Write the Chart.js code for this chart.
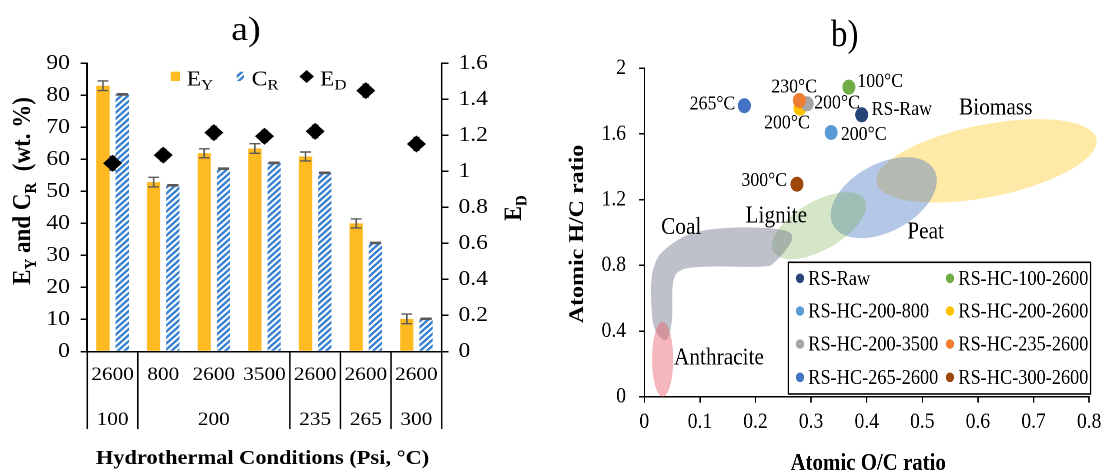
<!DOCTYPE html>
<html><head><meta charset="utf-8">
<script src="https://cdn.jsdelivr.net/npm/chart.js@4.4.1/dist/chart.umd.min.js"></script>
<style>
html,body{margin:0;padding:0;background:#fff;width:1107px;height:473px;overflow:hidden}
.panel{position:absolute;top:0;transform-origin:0 0}
</style></head><body>
<div class="panel" id="pa" style="left:0;width:496px;height:473px;transform:scaleX(1.12)"><canvas id="ca" width="496" height="473"></canvas></div>
<div class="panel" id="pb" style="left:555px;width:634px;height:473px;transform:scaleX(0.87)"><canvas id="cb" width="634" height="473"></canvas></div>
<script>
// ---------- Panel a data ----------
const psiLabels = ['2600','800','2600','3500','2600','2600','2600'];
const tempLabels = ['100','200','235','265','300'];
const tempFirstIdx = [0,1,4,5,6];
const tempLastIdx  = [0,3,4,5,6];
const eyValues = [83.0, 52.9, 61.9, 63.4, 60.9, 40.0, 10.2];
const eyErrors = [1.5, 1.5, 1.4, 1.5, 1.4, 1.4, 1.5];
const crValues = [80.3, 51.9, 57.1, 58.9, 55.8, 33.9, 10.2];
const crErrors = [0.2, 0.2, 0.2, 0.2, 0.2, 0.2, 0.2];
const edValues = [1.045, 1.09, 1.215, 1.195, 1.222, 1.448, 1.152];
const edErrors = [0.038, 0.033, 0.035, 0.033, 0.035, 0.036, 0.036];
const leftTickValues = [0,10,20,30,40,50,60,70,80,90];
const leftTickLabels = ['0','10','20','30','40','50','60','70','80','90'];
const rightTickValues = [0,0.2,0.4,0.6,0.8,1.0,1.2,1.4,1.6];
const rightTickLabels = ['0','0.2','0.4','0.6','0.8','1','1.2','1.4','1.6'];
const seriesMain = ['E','C','E'];
const seriesSub = ['Y','R','D'];

// ---------- Panel b data ----------
const samples = ['RS-Raw','RS-HC-100-2600','RS-HC-200-800','RS-HC-200-2600','RS-HC-200-3500','RS-HC-235-2600','RS-HC-265-2600','RS-HC-300-2600'];
const ocRatio = [0.391, 0.368, 0.336, 0.280, 0.293, 0.279, 0.180, 0.2746];
const hcRatio = [1.717, 1.885, 1.609, 1.757, 1.784, 1.804, 1.772, 1.294];
const pointTags = ['RS-Raw','100°C','200°C','200°C','200°C','230°C','265°C','300°C'];
const ocTickValues = [0,0.1,0.2,0.3,0.4,0.5,0.6,0.7,0.8];
const ocTickLabels = ['0','0.1','0.2','0.3','0.4','0.5','0.6','0.7','0.8'];
const hcTickValues = [0,0.4,0.8,1.2,1.6,2];
const hcTickLabels = ['0','0.4','0.8','1.2','1.6','2'];
const regionNames = ['Biomass','Peat','Lignite','Coal','Anthracite'];
const regionLabelOC = [0.632, 0.506, 0.2374, 0.0665, 0.1343];
const regionLabelHC = [1.759, 1.002, 1.101, 1.030, 0.234];
// ellipse regions: centre, semi-axis vectors (data units)
const biomassShape = {c:[0.6154,1.4363], u:[0.1978,0.1328], v:[-0.0125,0.2165]};
const peatShape = {c:[0.4306,1.212], u:[0.0910,0.1676], v:[-0.0288,0.181]};
const ligniteShape = {c:[0.3143,1.0414], u:[0.0819,0.159], v:[-0.0215,0.128]};
const anthraciteShape = {c:[0.033,0.228], u:[0,0.228], v:[0.019,0]};
const coalOutline = [[0.0392,0.3455],[0.0174,0.4266],[0.0123,0.650],[0.0174,0.792],[0.0361,0.894],[0.0859,0.9957],[0.1606,1.0299],[0.2478,1.0158],[0.2653,0.955],[0.2354,0.8227],[0.2106,0.7922],[0.117,0.7922],[0.0673,0.772],[0.0517,0.691],[0.0497,0.4674]];

// ---------- styles ----------
const FONT = "'Liberation Serif','Times New Roman',serif";
Chart.defaults.font.family = FONT;
Chart.defaults.color = '#000';
Chart.defaults.animation = false;
const sampleColors = ['#264478','#70AD47','#5B9BD5','#FFC000','#A5A5A5','#ED7D31','#4472C4','#9E480E'];
const regionColors = ['rgba(255,192,0,0.35)','rgba(68,114,196,0.40)','rgba(112,173,71,0.30)','rgba(110,118,135,0.45)','rgba(232,96,107,0.45)'];
const tagPlace = [
  {dx:11.3,dy:-5,align:'left'},{dx:9.7,dy:-5.6,align:'left'},{dx:11.2,dy:2.3,align:'left'},
  {dx:-15,dy:15,align:'center'},{dx:8,dy:-0.7,align:'left'},{dx:-6,dy:-13.4,align:'center'},
  {dx:-10.3,dy:-1.7,align:'right'},{dx:-11.3,dy:-3.6,align:'right'}];

function makeStripe(){
  const c = document.createElement('canvas'); c.width = 12; c.height = 12;
  const g = c.getContext('2d');
  g.fillStyle = '#fff'; g.fillRect(0,0,12,12);
  g.strokeStyle = '#3a82d0'; g.lineWidth = 4.6;
  g.beginPath();
  g.moveTo(-6,6); g.lineTo(6,-6);
  g.moveTo(0,12); g.lineTo(12,0);
  g.moveTo(6,18); g.lineTo(18,6);
  g.stroke();
  const p = document.getElementById('ca').getContext('2d').createPattern(c,'repeat');
  if (p.setTransform) p.setTransform(new DOMMatrix().scale(0.5));
  return p;
}
const stripe = makeStripe();

function drawRich(ctx, parts, x, y, align, mainFont, subFont, subShift){
  let w = 0;
  parts.forEach(p => { ctx.font = p[1] ? subFont : mainFont; w += ctx.measureText(p[0]).width; });
  let cx = align === 'center' ? x - w/2 : (align === 'right' ? x - w : x);
  ctx.textAlign = 'left'; ctx.textBaseline = 'alphabetic';
  parts.forEach(p => {
    ctx.font = p[1] ? subFont : mainFont;
    ctx.fillText(p[0], cx, y + (p[1] ? subShift : 0));
    cx += ctx.measureText(p[0]).width;
  });
}

function drawErr(chart, meta, values, errors, scaleId, capHalf){
  const ctx = chart.ctx, sc = chart.scales[scaleId];
  ctx.save(); ctx.strokeStyle = '#595959'; ctx.lineWidth = 1.4;
  meta.data.forEach((el,i) => {
    const x = el.x, y1 = sc.getPixelForValue(values[i]+errors[i]), y2 = sc.getPixelForValue(values[i]-errors[i]);
    ctx.beginPath();
    ctx.moveTo(x,y1); ctx.lineTo(x,y2);
    ctx.moveTo(x-capHalf,y1); ctx.lineTo(x+capHalf,y1);
    ctx.moveTo(x-capHalf,y2); ctx.lineTo(x+capHalf,y2);
    ctx.stroke();
  });
  ctx.restore();
}

const panelAPlugin = {
  id:'panelA',
  beforeDatasetDraw(chart,args){ if (args.index===2) drawErr(chart,args.meta,edValues,edErrors,'y1',3); },
  afterDatasetDraw(chart,args){
    if (args.index===0) drawErr(chart,args.meta,eyValues,eyErrors,'y',4.8);
    if (args.index===1) drawErr(chart,args.meta,crValues,crErrors,'y',5);
  },
  afterDraw(chart){
    const ctx = chart.ctx, xs = chart.scales.x, area = chart.chartArea;
    ctx.save();
    ctx.fillStyle = '#000';
    // title
    ctx.font = `34px ${FONT}`; ctx.textAlign='center'; ctx.textBaseline='middle';
    ctx.fillText('a)', 219.6, 31);
    // category rows
    ctx.font = `19px ${FONT}`;
    psiLabels.forEach((l,i) => ctx.fillText(l, xs.getPixelForValue(i), 375));
    tempLabels.forEach((l,i) => ctx.fillText(l, (xs.getPixelForValue(tempFirstIdx[i])+xs.getPixelForValue(tempLastIdx[i]))/2, 420));
    ctx.strokeStyle='#000'; ctx.lineWidth=1.3;
    const bounds = [-0.5].concat(tempLastIdx.map(v=>v+0.5));
    bounds.forEach(b => { const x = xs.getPixelForValue(b); ctx.beginPath(); ctx.moveTo(x, area.bottom); ctx.lineTo(x, 429); ctx.stroke(); });
    // x title
    ctx.font = `bold 20px ${FONT}`; ctx.textAlign='center';
    ctx.fillText('Hydrothermal Conditions (Psi, °C)', 234.4, 459);
    // left y title
    ctx.save(); ctx.translate(27, 191); ctx.rotate(-Math.PI/2);
    drawRich(ctx, [['E',0],['Y',1],[' and C',0],['R',1],['  (wt. %)',0]], 0, 0, 'center', `bold 23px ${FONT}`, `bold 15px ${FONT}`, 5);
    ctx.restore();
    // right y title
    ctx.save(); ctx.translate(465, 208); ctx.rotate(-Math.PI/2);
    drawRich(ctx, [['E',0],['D',1]], 0, 0, 'center', `bold 22px ${FONT}`, `bold 15px ${FONT}`, 5);
    ctx.restore();
    // legend
    ctx.fillStyle = '#FDBA21'; ctx.fillRect(152.4, 71.7, 8.3, 9.3);
    ctx.fillStyle = stripe; ctx.fillRect(211.3, 71.7, 6.6, 9.3);
    ctx.fillStyle = '#000';
    ctx.beginPath(); ctx.moveTo(273.8, 70); ctx.lineTo(280.3, 76.5); ctx.lineTo(273.8, 83); ctx.lineTo(267.3, 76.5); ctx.closePath(); ctx.fill();
    const lx = [166.7, 224.7, 285.7];
    seriesMain.forEach((m,i) => drawRich(ctx, [[m,0],[seriesSub[i],1]], lx[i], 85.5, 'left', `21px ${FONT}`, `15px ${FONT}`, 4));
    ctx.restore();
  }
};

new Chart(document.getElementById('ca'), {
  type:'bar',
  data:{
    labels: psiLabels,
    datasets:[
      {label:'EY', data:eyValues, backgroundColor:'#FDBA21', yAxisID:'y', order:1, categoryPercentage:0.76, barPercentage:0.69},
      {label:'CR', data:crValues, backgroundColor:stripe, yAxisID:'y', order:1, categoryPercentage:0.76, barPercentage:0.69},
      {label:'ED', type:'line', data:edValues, yAxisID:'y1', order:0, showLine:false, pointStyle:'rectRot', pointRadius:8.5, pointHoverRadius:8.5, backgroundColor:'#000', borderColor:'#000', borderWidth:0}
    ]
  },
  options:{
    responsive:false, devicePixelRatio:2,
    layout:{padding:{top:63.3,left:0,right:0,bottom:0}},
    plugins:{legend:{display:false}, tooltip:{enabled:false}},
    scales:{
      x:{type:'category', offset:true, ticks:{display:false}, grid:{display:false},
         border:{display:true,color:'#000',width:1.5}, afterFit:s=>{s.height=121.5;}},
      y:{position:'left', min:0, max:90,
         afterBuildTicks:s=>{s.ticks=leftTickValues.map(v=>({value:v}));},
         ticks:{font:{size:21}, padding:9.5, callback:(v,i)=>leftTickLabels[i]},
         grid:{display:true,drawOnChartArea:false,tickLength:6,color:'#000',lineWidth:1.5},
         border:{display:true,color:'#000',width:1.5}, afterFit:s=>{s.width=77.9;}},
      y1:{position:'right', min:0, max:1.6,
         afterBuildTicks:s=>{s.ticks=rightTickValues.map(v=>({value:v}));},
         ticks:{font:{size:21}, padding:9, callback:(v,i)=>rightTickLabels[i]},
         grid:{display:true,drawOnChartArea:false,tickLength:6,color:'#000',lineWidth:1.5},
         border:{display:true,color:'#000',width:1.5}, afterFit:s=>{s.width=101.6;}}
    }
  },
  plugins:[panelAPlugin]
});

// ---------- Panel b ----------
function closedSpline(ctx, pts){
  const n = pts.length;
  ctx.moveTo(pts[0][0], pts[0][1]);
  for (let i=0;i<n;i++){
    const p0=pts[(i-1+n)%n], p1=pts[i], p2=pts[(i+1)%n], p3=pts[(i+2)%n];
    ctx.bezierCurveTo(p1[0]+(p2[0]-p0[0])/6, p1[1]+(p2[1]-p0[1])/6, p2[0]-(p3[0]-p1[0])/6, p2[1]-(p3[1]-p1[1])/6, p2[0], p2[1]);
  }
  ctx.closePath();
}
function ellipsePath(ctx, xs, ys, sh){
  for (let k=0;k<=120;k++){
    const t = k/120*2*Math.PI;
    const dx = sh.c[0] + Math.cos(t)*sh.u[0] + Math.sin(t)*sh.v[0];
    const dy = sh.c[1] + Math.cos(t)*sh.u[1] + Math.sin(t)*sh.v[1];
    const px = xs.getPixelForValue(dx), py = ys.getPixelForValue(dy);
    if (k===0) ctx.moveTo(px,py); else ctx.lineTo(px,py);
  }
  ctx.closePath();
}

const panelBPlugin = {
  id:'panelB',
  beforeDatasetsDraw(chart){
    const ctx = chart.ctx, xs = chart.scales.x, ys = chart.scales.y;
    ctx.save();
    const shapes = [biomassShape, peatShape, ligniteShape];
    shapes.forEach((sh,i) => { ctx.beginPath(); ellipsePath(ctx,xs,ys,sh); ctx.fillStyle = regionColors[i]; ctx.fill(); });
    ctx.beginPath(); closedSpline(ctx, coalOutline.map(p=>[xs.getPixelForValue(p[0]), ys.getPixelForValue(p[1])]));
    ctx.fillStyle = regionColors[3]; ctx.fill();
    ctx.beginPath(); ellipsePath(ctx,xs,ys,anthraciteShape); ctx.fillStyle = regionColors[4]; ctx.fill();
    ctx.fillStyle = '#000'; ctx.font = `24.5px ${FONT}`; ctx.textAlign='center'; ctx.textBaseline='middle';
    regionNames.forEach((n,i) => ctx.fillText(n, xs.getPixelForValue(regionLabelOC[i]), ys.getPixelForValue(regionLabelHC[i])));
    ctx.restore();
  },
  afterDatasetsDraw(chart){
    const ctx = chart.ctx;
    ctx.save(); ctx.fillStyle='#000'; ctx.font = `20.5px ${FONT}`; ctx.textBaseline='middle';
    chart.data.datasets.forEach((ds,i) => {
      const el = chart.getDatasetMeta(i).data[0];
      const tp = tagPlace[i];
      ctx.textAlign = tp.align;
      ctx.fillText(pointTags[i], el.x + tp.dx, el.y + tp.dy);
    });
    ctx.restore();
  },
  afterDraw(chart){
    const ctx = chart.ctx;
    ctx.save();
    // legend box
    ctx.fillStyle='#fff'; ctx.fillRect(268.2, 262.3, 347.5, 131.7);
    ctx.strokeStyle='#000'; ctx.lineWidth=1.6; ctx.strokeRect(268.2, 262.3, 347.5, 131.7);
    const colMarker = [281.6, 454], colText = [291.1, 463.6], rowY = [278.3, 311, 344, 377.3];
    ctx.font = `21px ${FONT}`; ctx.textAlign='left'; ctx.textBaseline='middle';
    chart.data.datasets.forEach((ds,i) => {
      const c = i%2, r = Math.floor(i/2);
      ctx.fillStyle = ds.backgroundColor;
      ctx.beginPath(); ctx.arc(colMarker[c], rowY[r], 4.8, 0, 2*Math.PI); ctx.fill();
      ctx.fillStyle = '#000';
      ctx.fillText(ds.label, colText[c], rowY[r]+1);
    });
    // titles
    ctx.font = `38px ${FONT}`; ctx.textAlign='center';
    ctx.fillText('b)', 333, 36);
    ctx.font = `bold 24px ${FONT}`;
    ctx.fillText('Atomic O/C ratio', 360, 464);
    ctx.save(); ctx.translate(26.4, 234); ctx.rotate(-Math.PI/2);
    ctx.fillText('Atomic H/C ratio', 0, 0);
    ctx.restore();
    ctx.restore();
  }
};

new Chart(document.getElementById('cb'), {
  type:'scatter',
  data:{
    datasets: samples.map((s,i) => ({label:s, data:[{x:ocRatio[i], y:hcRatio[i]}], backgroundColor:sampleColors[i], borderColor:sampleColors[i], borderWidth:0, pointRadius:7.5, pointHoverRadius:7.5, order:-i}))
  },
  options:{
    responsive:false, devicePixelRatio:2,
    layout:{padding:{top:68.3,right:17,left:0,bottom:0}},
    plugins:{legend:{display:false}, tooltip:{enabled:false}},
    scales:{
      x:{type:'linear', min:0, max:0.8,
         afterBuildTicks:s=>{s.ticks=ocTickValues.map(v=>({value:v}));},
         ticks:{font:{size:22.5}, padding:6, maxRotation:0, callback:(v,i)=>ocTickLabels[i]},
         grid:{display:true,drawOnChartArea:false,tickLength:6,color:'#000',lineWidth:1.5},
         border:{display:true,color:'#000',width:1.5}, afterFit:s=>{s.height=76.3;}},
      y:{type:'linear', min:0, max:2,
         afterBuildTicks:s=>{s.ticks=hcTickValues.map(v=>({value:v}));},
         ticks:{font:{size:22.5}, padding:15, callback:(v,i)=>hcTickLabels[i]},
         grid:{display:true,drawOnChartArea:false,tickLength:6,color:'#000',lineWidth:1.5},
         border:{display:true,color:'#000',width:1.5}, afterFit:s=>{s.width=102.6;}}
    }
  },
  plugins:[panelBPlugin]
});
</script>
</body></html>
